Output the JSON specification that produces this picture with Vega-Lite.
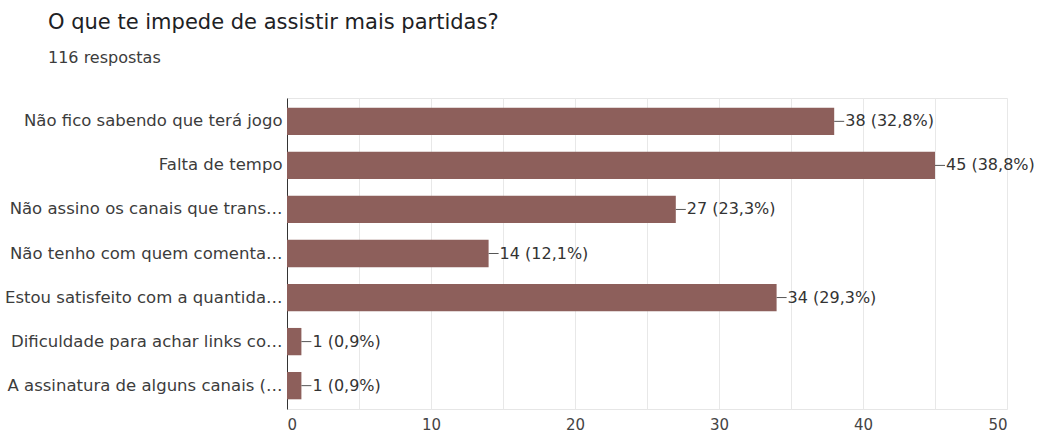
{
  "$schema": "https://vega.github.io/schema/vega-lite/v6.json",
  "autosize": {"type": "none"},
  "width": 720,
  "height": 311,
  "padding": {"left": 287, "top": 98, "right": 35, "bottom": 28},
  "background": "white",
  "config": {
    "font": "DejaVu Sans",
    "view": {"stroke": "#e6e6e6", "strokeWidth": 1}
  },
  "title": {
    "text": "O que te impede de assistir mais partidas?",
    "subtitle": "116 respostas",
    "anchor": "start",
    "frame": "group",
    "dx": -239,
    "offset": 32,
    "font": "DejaVu Sans",
    "fontSize": 21,
    "fontWeight": "normal",
    "color": "#202124",
    "subtitleFont": "DejaVu Sans",
    "subtitleFontSize": 16,
    "subtitleColor": "#3c3c3c",
    "subtitlePadding": 17
  },
  "data": {
    "values": [
      {"opcao": "Não fico sabendo que terá jogo", "n": 38, "rotulo": "38 (32,8%)"},
      {"opcao": "Falta de tempo", "n": 45, "rotulo": "45 (38,8%)"},
      {"opcao": "Não assino os canais que trans…", "n": 27, "rotulo": "27 (23,3%)"},
      {"opcao": "Não tenho com quem comenta…", "n": 14, "rotulo": "14 (12,1%)"},
      {"opcao": "Estou satisfeito com a quantida…", "n": 34, "rotulo": "34 (29,3%)"},
      {"opcao": "Dificuldade para achar links co…", "n": 1, "rotulo": "1 (0,9%)"},
      {"opcao": "A assinatura de alguns canais (…", "n": 1, "rotulo": "1 (0,9%)"}
    ]
  },
  "encoding": {
    "y": {
      "field": "opcao",
      "type": "nominal",
      "sort": null,
      "scale": {"paddingInner": 0.38, "paddingOuter": 0.22},
      "axis": {
        "title": null,
        "ticks": false,
        "domainColor": "#333333",
        "domainWidth": 1,
        "labelFont": "DejaVu Sans",
        "labelFontSize": 16.5,
        "labelColor": "#3c3c3c",
        "labelPadding": 5,
        "labelLimit": 300
      }
    }
  },
  "layer": [
    {
      "mark": {"type": "bar", "color": "#8d5f5b"},
      "encoding": {
        "x": {
          "field": "n",
          "type": "quantitative",
          "scale": {"domain": [0, 50], "nice": false},
          "axis": {
            "title": null,
            "values": [0, 5, 10, 15, 20, 25, 30, 35, 40, 45, 50],
            "labelExpr": "datum.value % 10 === 0 ? datum.label : ''",
            "domain": false,
            "ticks": false,
            "gridColor": "#e8e8e8",
            "labelFont": "DejaVu Sans",
            "labelFontSize": 15,
            "labelColor": "#444444",
            "labelPadding": 8
          }
        }
      }
    },
    {
      "mark": {"type": "rule", "color": "#555555", "strokeWidth": 1, "x2Offset": 10},
      "encoding": {
        "x": {"field": "n", "type": "quantitative"},
        "x2": {"field": "n"}
      }
    },
    {
      "mark": {"type": "text", "align": "left", "baseline": "middle", "dx": 11, "font": "DejaVu Sans", "fontSize": 16, "color": "#333333"},
      "encoding": {
        "x": {"field": "n", "type": "quantitative"},
        "text": {"field": "rotulo"}
      }
    }
  ]
}
